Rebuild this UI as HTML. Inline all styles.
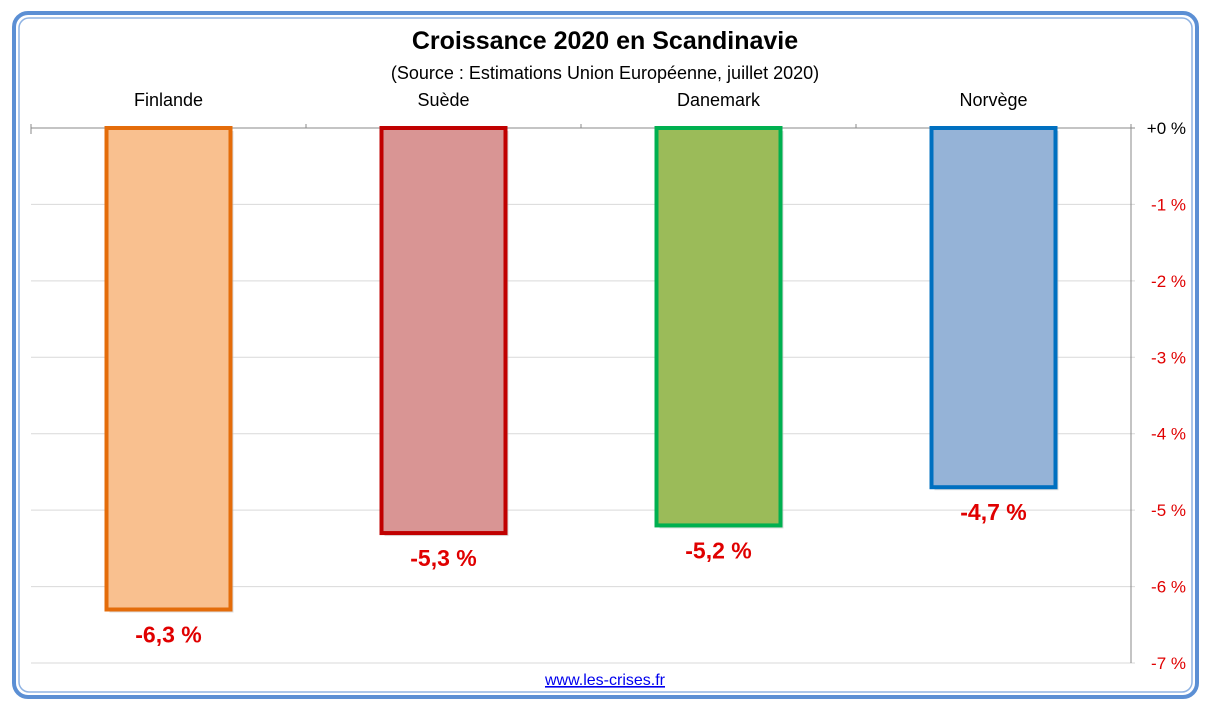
<!DOCTYPE html>
<html><head><meta charset="utf-8"><style>
body{margin:0;background:#fff;width:1211px;height:710px;overflow:hidden;font-family:"Liberation Sans",sans-serif}
</style></head><body>
<svg width="1211" height="710">
<rect x="14" y="13" width="1183" height="684" rx="14" fill="none" stroke="#5b8fd4" stroke-width="4"/>
<rect x="19" y="18" width="1173" height="674" rx="10" fill="none" stroke="#8fb3e3" stroke-width="1.5"/>
<text x="605" y="49" text-anchor="middle" font-size="25" font-weight="bold" fill="#000">Croissance 2020 en Scandinavie</text>
<text x="605" y="79" text-anchor="middle" font-size="18" fill="#000">(Source : Estimations Union Européenne, juillet 2020)</text>
<g id="grid"></g>
<g id="bars"></g>
<text x="605" y="685" text-anchor="middle" font-size="16" fill="#0000ee" text-decoration="underline">www.les-crises.fr</text>
</svg>
<script>
const categories=["Finlande","Suède","Danemark","Norvège"];
const values=[-6.3,-5.3,-5.2,-4.7];
const valueLabels=["-6,3 %","-5,3 %","-5,2 %","-4,7 %"];
const ticks=[0,-1,-2,-3,-4,-5,-6,-7];
const tickLabels=["+0 %","-1 %","-2 %","-3 %","-4 %","-5 %","-6 %","-7 %"];
const fills=["#f9c08f","#d99594","#9bbb59","#95b3d7"];
const strokes=["#e46c0a","#c00000","#00b050","#0070c0"];
const NS="http://www.w3.org/2000/svg";
const X0=31,X1=1131,Y0=128,Y7=663;
const y=v=>Y0+(-v)/7*(Y7-Y0);
const band=(X1-X0)/categories.length;
const cx=i=>X0+band*(i+0.5);
function mk(t,a,p){const e=document.createElementNS(NS,t);for(const k in a)e.setAttribute(k,a[k]);p.appendChild(e);return e;}
const g=document.getElementById('grid'),b=document.getElementById('bars');
ticks.forEach((t,i)=>{
 const yy=y(t);
 const l=mk('line',{x1:X0,x2:1135,y1:yy,y2:yy,stroke:t===0?'#888':'#d9d9d9','stroke-width':1},g);
 
 
 const tx=mk('text',{x:1186,y:yy+6,'text-anchor':'end','font-size':17,fill:t===0?'#000':'#e00000'},g);
 tx.textContent=tickLabels[i];
 
 
});
const ax=mk('line',{x1:X1,x2:X1,y1:Y0,y2:Y7,stroke:'#888'},g);


for(let i=0;i<=categories.length;i++){const tk=mk('line',{x1:X0+band*i,x2:X0+band*i,y1:Y0-4,y2:Y0+(i==0?6:0),stroke:'#888'},g);
 
 }
categories.forEach((c,i)=>{
 const w=124,xx=cx(i)-w/2,top=y(0),bot=y(values[i]);
 const sh=mk('rect',{x:xx+3,y:top+3,width:w,height:bot-top,fill:'#bbb',opacity:0.5},b);
 
 
 const r=mk('rect',{x:xx,y:top,width:w,height:bot-top,fill:fills[i],stroke:strokes[i],'stroke-width':4},b);
 
 
 const cl=mk('text',{x:cx(i),y:106,'text-anchor':'middle','font-size':18,fill:'#000'},b);
 cl.textContent=c;
 
 
 const vl=mk('text',{x:cx(i),y:bot+33,'text-anchor':'middle','font-size':23,'font-weight':'bold',fill:'#e00000'},b);
 vl.textContent=valueLabels[i];
 
 
});
</script>
</body></html>
